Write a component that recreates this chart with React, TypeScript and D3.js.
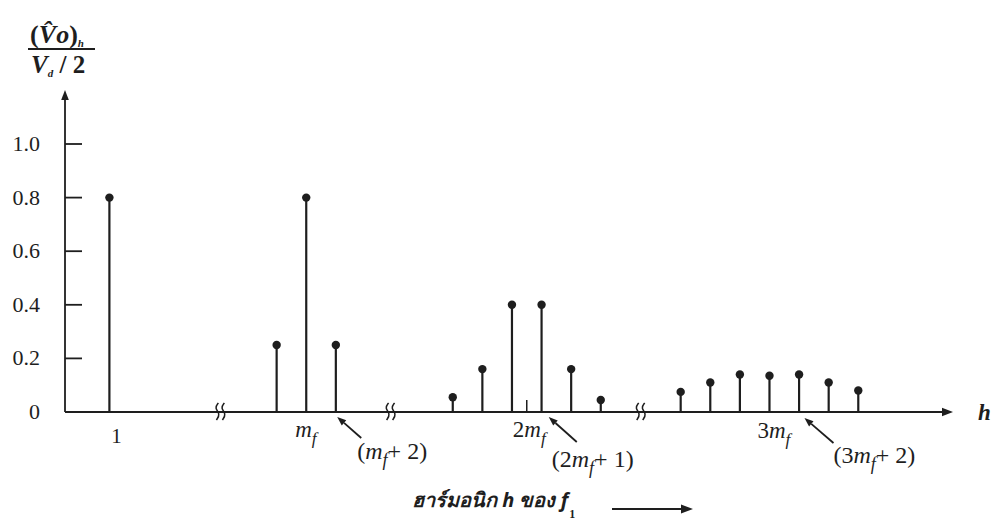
import React from 'react';
import * as d3 from 'd3';

const W = 997;
const H = 524;

// y axis ticks
const yTicks = [0, 0.2, 0.4, 0.6, 0.8, 1.0];
const yTickLabels = ['0', '0.2', '0.4', '0.6', '0.8', '1.0'];

// group centres on the compressed harmonic axis (1 unit = 1 harmonic)
const groupNames = ['1', 'mf', '2mf', '3mf'];
const groupCenters = [3, 16.3, 31.2, 47.6];

// harmonic offsets from each group centre, and normalised amplitudes
const offsets1 = [0];
const values1 = [0.8];
const offsetsMf = [-2, 0, 2];
const valuesMf = [0.25, 0.8, 0.25];
const offsets2Mf = [-5, -3, -1, 1, 3, 5];
const values2Mf = [0.055, 0.16, 0.4, 0.4, 0.16, 0.045];
const offsets3Mf = [-6, -4, -2, 0, 2, 4, 6];
const values3Mf = [0.075, 0.11, 0.14, 0.135, 0.14, 0.11, 0.08];

// axis breaks
const breaks = [10.5, 22, 38.9];

const groups = [
  { offsets: offsets1, values: values1 },
  { offsets: offsetsMf, values: valuesMf },
  { offsets: offsets2Mf, values: values2Mf },
  { offsets: offsets3Mf, values: values3Mf },
];

const ink = '#1e1e1e';
const serif = '"Liberation Serif", "DejaVu Serif", serif';

const x = d3.scaleLinear().domain([0, 60]).range([65, 953]);
const y = d3.scaleLinear().domain([0, 1]).range([412, 144]);

const Arrow = ({ x1, y1, x2, y2, size = 9 }: { x1: number; y1: number; x2: number; y2: number; size?: number }) => {
  const a = Math.atan2(y2 - y1, x2 - x1);
  const bx = x2 - size * Math.cos(a);
  const by = y2 - size * Math.sin(a);
  const w = size * 0.38;
  const p1 = [bx + w * Math.sin(a), by - w * Math.cos(a)];
  const p2 = [bx - w * Math.sin(a), by + w * Math.cos(a)];
  return (
    <g>
      <line x1={x1} y1={y1} x2={bx} y2={by} stroke={ink} strokeWidth={1.8} />
      <path d={`M${x2},${y2}L${p1[0]},${p1[1]}L${p2[0]},${p2[1]}Z`} fill={ink} />
    </g>
  );
};

const MfText = ({ px, py, pre, post, size }: { px: number; py: number; pre: string; post: string; size: number }) => (
  <text x={px} y={py} fontFamily={serif} fontSize={size} fill={ink}>
    {pre}
    <tspan fontStyle="italic">m</tspan>
    <tspan fontStyle="italic" fontSize={size * 0.75} dy={7}>f</tspan>
    <tspan dy={-7}>{post}</tspan>
  </text>
);

export default function App() {
  const y0 = y(0);
  const stems: { cx: number; v: number }[] = [];
  groups.forEach((g, gi) => {
    g.offsets.forEach((o, i) => stems.push({ cx: x(groupCenters[gi] + o), v: g.values[i] }));
  });
  const lineGen = d3.line<[number, number]>().curve(d3.curveBasis);

  const squiggle = (bx: number) => {
    const pts: [number, number][] = [
      [bx + 1, y0 - 9],
      [bx - 3, y0 - 4],
      [bx + 3, y0 + 2],
      [bx - 1, y0 + 8],
    ];
    return lineGen(pts) || '';
  };

  const cMf = x(groupCenters[1]);
  const c2Mf = x(groupCenters[2]);
  const c3Mf = x(groupCenters[3]);

  return (
    <svg width={W} height={H} style={{ position: 'absolute', left: 0, top: 0, background: '#fff' }}>
      {/* title fraction */}
      <text x={30} y={43} fontFamily={serif} fontSize={26} fontWeight="bold" fill={ink}>
        (<tspan fontStyle="italic">V̂</tspan>
        <tspan fontStyle="italic" dx={3}>o</tspan>)
        <tspan fontStyle="italic" fontSize={11} dy={4}>h</tspan>
      </text>
      <line x1={28} x2={95} y1={49} y2={49} stroke={ink} strokeWidth={2} />
      <text x={31} y={73} fontFamily={serif} fontSize={25} fontWeight="bold" fill={ink}>
        <tspan fontStyle="italic">V</tspan>
        <tspan fontStyle="italic" fontSize={11} dy={4}>d</tspan>
        <tspan dy={-4}> / 2</tspan>
      </text>

      {/* y axis */}
      <Arrow x1={x(0)} y1={y0} x2={x(0)} y2={90} size={10} />
      {yTicks.map((t, i) => (
        <g key={t}>
          {i > 0 && <line x1={x(0)} x2={x(0) + 17} y1={y(t)} y2={y(t)} stroke={ink} strokeWidth={1.8} />}
          <text x={40} y={y(t) + 7} textAnchor="end" fontFamily={serif} fontSize={22} fill={ink}>
            {yTickLabels[i]}
          </text>
        </g>
      ))}

      {/* x axis */}
      <Arrow x1={x(0)} y1={y0} x2={953} y2={y0} size={11} />
      <text x={978} y={420} fontFamily={serif} fontSize={23} fontWeight="bold" fontStyle="italic" fill={ink}>h</text>

      {breaks.map((b) => (
        <g key={b}>
          <path d={squiggle(x(b) - 3)} fill="none" stroke={ink} strokeWidth={1.5} />
          <path d={squiggle(x(b) + 3)} fill="none" stroke={ink} strokeWidth={1.5} />
        </g>
      ))}

      {/* stems */}
      {stems.map((s, i) => (
        <g key={i}>
          <line x1={s.cx} x2={s.cx} y1={y0} y2={y(s.v)} stroke={ink} strokeWidth={2.2} />
          <circle cx={s.cx} cy={y(s.v)} r={4.2} fill={ink} />
        </g>
      ))}
      {/* marker at 2mf */}
      <line x1={c2Mf} x2={c2Mf} y1={y0} y2={y0 - 12} stroke={ink} strokeWidth={1.5} />

      {/* harmonic labels */}
      <text x={x(groupCenters[0]) + 7} y={443} textAnchor="middle" fontFamily={serif} fontSize={21} fill={ink}>
        {groupNames[0]}
      </text>
      <MfText px={cMf - 11} py={437} pre="" post="" size={23} />
      <MfText px={c2Mf - 14} py={437} pre="2" post="" size={23} />
      <MfText px={c3Mf - 12} py={438} pre="3" post="" size={23} />

      <Arrow x1={cMf + 55} y1={438} x2={cMf + 31} y2={417} />
      <MfText px={cMf + 51} py={459} pre="(" post="+ 2)" size={24} />
      <Arrow x1={c2Mf + 50} y1={442} x2={c2Mf + 22} y2={417} />
      <MfText px={c2Mf + 25} py={467} pre="(2" post="+ 1)" size={24} />
      <Arrow x1={c3Mf + 64} y1={443} x2={c3Mf + 35} y2={418} />
      <MfText px={c3Mf + 64} py={463} pre="(3" post="+ 2)" size={24} />

      {/* bottom label */}
      <text x={412} y={507} fontFamily='"Noto Sans", "DejaVu Sans", sans-serif' fontSize={20} fontWeight="bold" fontStyle="italic" fill={ink}>
        ฮาร์มอนิก <tspan fontStyle="italic">h</tspan> ของ <tspan fontStyle="italic">f</tspan>
        <tspan fontFamily={serif} fontStyle="normal" fontSize={12} dx={1} dy={11}>1</tspan>
      </text>
      <Arrow x1={612} y1={509} x2={693} y2={509} size={12} />
    </svg>
  );
}
